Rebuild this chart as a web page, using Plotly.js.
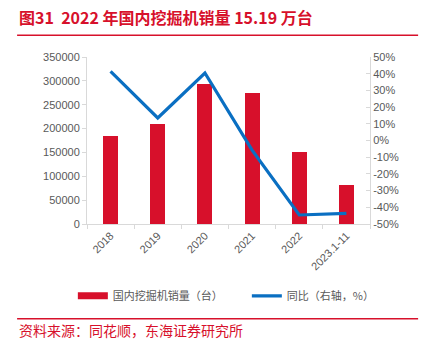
<!DOCTYPE html>
<html>
<head>
<meta charset="utf-8">
<script src="https://cdn.plot.ly/plotly-3.0.1.min.js"></script>
<style>
html,body{margin:0;padding:0;background:#fff;}
#chart{width:426px;height:349px;}
</style>
</head>
<body>
<div id="chart"></div>
<script>
var categories = ['2018', '2019', '2020', '2021', '2022', '2023.1-11'];
var salesUnits = [184000, 209000, 293000, 274000, 151900, 81600];
var yoyPct = [41.4, 13.5, 40.4, -5.8, -44.6, -43.6];
var leftTicks = [0, 50000, 100000, 150000, 200000, 250000, 300000, 350000];
var rightTicks = [-50, -40, -30, -20, -10, 0, 10, 20, 30, 40, 50];
var rightTickText = rightTicks.map(function (v) { return String(v) + '%'; });

var RED = '#D7102B';
var BLUE = '#0A6FC2';
var GRAY = '#595959';
var AXIS = '#D9D9D9';
var FONT = '"Liberation Sans", Arial, "Noto Sans CJK SC", sans-serif';

var traces = [
  {
    type: 'bar', x: categories, y: salesUnits, name: '国内挖掘机销量（台）',
    marker: {color: RED}, width: 0.32, showlegend: false, yaxis: 'y', hoverinfo: 'skip'
  },
  {
    type: 'scatter', mode: 'lines', x: [null], y: [null], name: '国内挖掘机销量（台）',
    line: {color: RED, width: 7}, showlegend: true, hoverinfo: 'skip'
  },
  {
    type: 'scatter', mode: 'lines', x: categories, y: yoyPct, name: '同比（右轴，%）',
    line: {color: BLUE, width: 3.2}, yaxis: 'y2', showlegend: true, hoverinfo: 'skip'
  }
];

var layout = {
  width: 426, height: 349,
  margin: {l: 87, r: 56, t: 57, b: 125},
  paper_bgcolor: '#fff', plot_bgcolor: '#fff',
  font: {family: FONT, size: 11, color: GRAY},
  showlegend: true,
  bargap: 0,
  xaxis: {
    type: 'category', tickangle: -45, showline: true, linecolor: AXIS, linewidth: 1,
    ticks: 'outside', tickson: 'boundaries', ticklen: 4, tickcolor: AXIS,
    showgrid: false, zeroline: false, tickfont: {size: 11, color: GRAY}, fixedrange: true
  },
  yaxis: {
    range: [0, 350000], tickvals: leftTicks, showline: true, linecolor: AXIS, linewidth: 1,
    ticks: 'outside', ticklen: 4, tickcolor: AXIS, showgrid: false, zeroline: false,
    tickformat: 'd', tickfont: {size: 11, color: GRAY}, fixedrange: true
  },
  yaxis2: {
    overlaying: 'y', side: 'right', range: [-50, 50], tickvals: rightTicks, ticktext: rightTickText,
    tickmode: 'array',
    showline: true, linecolor: AXIS, linewidth: 1, ticks: 'inside', ticklen: 4, tickcolor: AXIS,
    showgrid: false, zeroline: false, tickfont: {size: 11, color: GRAY}, fixedrange: true
  },
  legend: {
    orientation: 'h', x: -0.05, xanchor: 'left', y: -0.43, yanchor: 'middle',
    font: {family: '"Noto Sans CJK SC", sans-serif', size: 11, color: GRAY},
    bgcolor: 'rgba(0,0,0,0)', entrywidth: 129, entrywidthmode: 'pixels', itemwidth: 30
  },
  annotations: [
    {
      text: '<b>图31  2022 年国内挖掘机销量 15.19 万台</b>', xref: 'paper', yref: 'paper',
      x: -0.247, y: 1.24, xanchor: 'left', yanchor: 'middle', showarrow: false,
      font: {family: '"Noto Sans CJK SC", "Liberation Sans", sans-serif', size: 16, color: RED}
    },
    {
      text: '资料来源：同花顺，东海证券研究所', xref: 'paper', yref: 'paper',
      x: -0.247, y: -0.635, xanchor: 'left', yanchor: 'middle', showarrow: false,
      font: {family: '"Noto Sans CJK SC", sans-serif', size: 14, color: RED}
    }
  ],
  shapes: [
    {type: 'line', xref: 'paper', yref: 'paper', x0: -0.247, x1: 1.170, y0: 1.13, y1: 1.13,
      line: {color: RED, width: 1.5}},
    {type: 'line', xref: 'paper', yref: 'paper', x0: -0.247, x1: 1.170, y0: -0.568, y1: -0.568,
      line: {color: RED, width: 1.5}}
  ]
};

Plotly.newPlot('chart', traces, layout, {displayModeBar: false, staticPlot: true});
</script>
</body>
</html>
